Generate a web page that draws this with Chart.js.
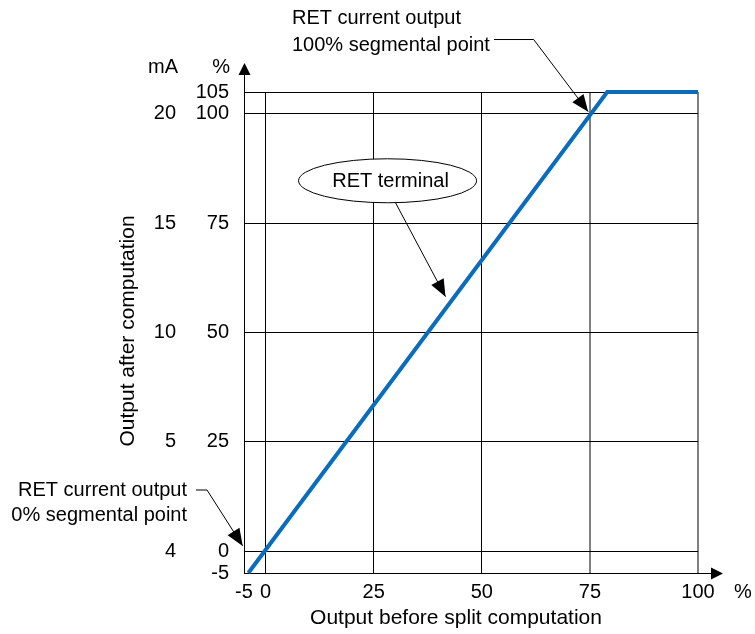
<!DOCTYPE html>
<html>
<head>
<meta charset="utf-8">
<script src="https://cdn.jsdelivr.net/npm/chart.js@4.4.1/dist/chart.umd.min.js"></script>
<style>
  body { margin: 0; background: #fff; }
  #chart { display: block; }
</style>
</head>
<body>
<canvas id="chart" width="755" height="634"></canvas>
<script>
// Input/output curve of the RET terminal (percent before split -> percent after)
const lineX = [-4, 79, 100];
const lineY = [-5, 105, 105];

// Tick values for both axes
const xTicks = [-5, 0, 25, 50, 75, 100];
const yTicks = [-5, 0, 25, 50, 75, 100, 105];

// Current (mA) column on the left
const mATickPos = [0, 25, 50, 75, 100];
const mATickLabels = ['4', '5', '10', '15', '20'];

const FONT = '"Liberation Sans", Arial, sans-serif';
const BLUE = '#0b6cbd';

Chart.defaults.font.family = FONT;
Chart.defaults.font.size = 20;
Chart.defaults.color = '#000';

// draws a filled arrowhead with its tip at (x2, y2)
function arrowHead(ctx, x1, y1, x2, y2, len, half) {
  const a = Math.atan2(y2 - y1, x2 - x1);
  ctx.beginPath();
  ctx.moveTo(x2, y2);
  ctx.lineTo(x2 - len * Math.cos(a) + half * Math.sin(a), y2 - len * Math.sin(a) - half * Math.cos(a));
  ctx.lineTo(x2 - len * Math.cos(a) - half * Math.sin(a), y2 - len * Math.sin(a) + half * Math.cos(a));
  ctx.closePath();
  ctx.fill();
}

// axes arrows, headers, axis titles and the callouts
const decorations = {
  id: 'decorations',
  afterDraw(chart) {
    const ctx = chart.ctx;
    const xs = chart.scales.x, ys = chart.scales.y;
    const P = (x, y) => [xs.getPixelForValue(x), ys.getPixelForValue(y)];
    const area = chart.chartArea;
    ctx.save();
    ctx.strokeStyle = '#000';
    ctx.fillStyle = '#000';
    ctx.lineWidth = 1;

    // axis extensions with arrows
    ctx.beginPath();
    ctx.moveTo(area.left + 0.5, area.top);
    ctx.lineTo(area.left + 0.5, area.top - 20);
    ctx.moveTo(area.right, area.bottom + 0.5);
    ctx.lineTo(area.right + 14, area.bottom + 0.5);
    ctx.stroke();
    arrowHead(ctx, area.left + 0.5, area.top, area.left + 0.5, area.top - 29, 12, 6);
    arrowHead(ctx, area.right, area.bottom + 0.5, area.right + 25, area.bottom + 0.5, 12, 6);

    ctx.font = '20px ' + FONT;
    ctx.textBaseline = 'middle';

    // column headers
    ctx.textAlign = 'right';
    ctx.fillText('mA', 178, 67);
    ctx.fillText('%', 230, 67);
    ctx.textAlign = 'left';
    ctx.fillText('%', area.right + 36, 592);

    // axis titles
    ctx.font = '21px ' + FONT;
    ctx.textAlign = 'center';
    ctx.fillText('Output before split computation', 456, 618);
    ctx.save();
    ctx.translate(128, 331);
    ctx.rotate(-Math.PI / 2);
    ctx.fillText('Output after computation', 0, 0);
    ctx.restore();
    ctx.font = '20px ' + FONT;

    // 100% segmental point callout
    ctx.textAlign = 'left';
    ctx.fillText('RET current output', 292, 18);
    ctx.fillText('100% segmental point', 292, 45);
    let a = P(62, 117), tip = P(74.6, 100.5);
    ctx.beginPath();
    ctx.moveTo(494, a[1]);
    ctx.lineTo(a[0], a[1]);
    ctx.lineTo(tip[0], tip[1]);
    ctx.stroke();
    arrowHead(ctx, a[0], a[1], tip[0], tip[1], 17, 7);

    // 0% segmental point callout
    ctx.textAlign = 'right';
    ctx.fillText('RET current output', 187, 490);
    ctx.fillText('0% segmental point', 187, 515);
    a = [207, 490];
    tip = P(-5.3, 1.2);
    ctx.beginPath();
    ctx.moveTo(196, a[1]);
    ctx.lineTo(a[0], a[1]);
    ctx.lineTo(tip[0], tip[1]);
    ctx.stroke();
    arrowHead(ctx, a[0], a[1], tip[0], tip[1], 17, 7);

    // RET terminal ellipse
    const c = P(28.2, 84.7);
    ctx.beginPath();
    ctx.ellipse(c[0], c[1], 89, 22, 0, 0, Math.PI * 2);
    ctx.fillStyle = '#fff';
    ctx.fill();
    ctx.stroke();
    ctx.fillStyle = '#000';
    ctx.textAlign = 'center';
    ctx.fillText('RET terminal', c[0] + 3, c[1] + 1);
    a = [c[0] + 8, c[1] + 22];
    tip = P(41.6, 58.2);
    ctx.beginPath();
    ctx.moveTo(a[0], a[1]);
    ctx.lineTo(tip[0], tip[1]);
    ctx.stroke();
    arrowHead(ctx, a[0], a[1], tip[0], tip[1], 17, 7);

    ctx.restore();
  }
};

new Chart(document.getElementById('chart'), {
  type: 'line',
  data: {
    datasets: [{
      data: lineX.map((x, i) => ({ x: x, y: lineY[i] })),
      borderColor: BLUE,
      borderWidth: 4,
      pointRadius: 0,
      tension: 0,
      clip: false
    }]
  },
  options: {
    responsive: false,
    animation: false,
    layout: { padding: { left: 124, top: 92, right: 57, bottom: 0 } },
    plugins: { legend: { display: false }, tooltip: { enabled: false } },
    scales: {
      x: {
        type: 'linear',
        min: -5,
        max: 100,
        afterBuildTicks: s => { s.ticks = xTicks.map(v => ({ value: v })); },
        afterFit: s => { s.height = 61; },
        ticks: { autoSkip: false, maxRotation: 0, padding: 7, callback: v => String(v) },
        grid: {
          drawTicks: false,
          color: c => (c.tick && c.tick.value >= 75) ? '#808080' : '#000',
          lineWidth: c => (c.tick && c.tick.value >= 75) ? 2 : 1
        },
        border: { color: '#000', width: 1 }
      },
      y: {
        type: 'linear',
        position: 'left',
        weight: 0,
        min: -5,
        max: 105,
        afterBuildTicks: s => { s.ticks = yTicks.map(v => ({ value: v })); },
        afterFit: s => { s.width = 60; },
        ticks: { autoSkip: false, padding: 15, callback: v => String(v) },
        grid: { drawTicks: false, color: '#000', lineWidth: 1 },
        border: { color: '#000', width: 1 }
      },
      mA: {
        type: 'linear',
        position: 'left',
        weight: 1,
        min: -5,
        max: 105,
        afterBuildTicks: s => { s.ticks = mATickPos.map(v => ({ value: v })); },
        afterFit: s => { s.width = 60; },
        ticks: { autoSkip: false, padding: 8, callback: (v, i) => mATickLabels[i] },
        grid: { display: false, drawTicks: false },
        border: { display: false }
      }
    }
  },
  plugins: [decorations]
});
</script>
</body>
</html>
